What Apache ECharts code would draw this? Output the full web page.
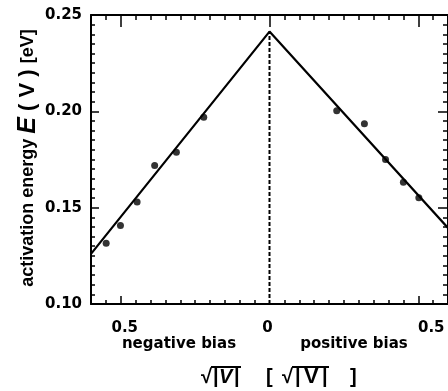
<!DOCTYPE html>
<html>
<head>
<meta charset="utf-8">
<script src="https://cdn.jsdelivr.net/npm/echarts@6/dist/echarts.min.js"></script>
<style>
html,body{margin:0;padding:0;background:#fff;}
#chart{width:448px;height:391px;}
</style>
</head>
<body>
<div id="chart"></div>
<script>
// data
const negX = [-0.549, -0.501, -0.445, -0.386, -0.313, -0.221];
const negE = [0.1315, 0.1408, 0.1529, 0.1719, 0.1788, 0.1969];
const posX = [0.226, 0.319, 0.390, 0.450, 0.502];
const posE = [0.2003, 0.1936, 0.1750, 0.1632, 0.1552];
const fitX = [-0.6, 0, 0.6];
const fitE = [0.126, 0.2414, 0.1395];
const dashX = [0, 0];
const dashE = [0.10, 0.2414];
const xMajorTicks = [-0.5, 0, 0.5];
const xMinorTicks = [-0.55,-0.45,-0.4,-0.35,-0.3,-0.25,-0.2,-0.15,-0.1,-0.05,0.05,0.1,0.15,0.2,0.25,0.3,0.35,0.4,0.45,0.55];

const pts = (xs, ys) => xs.map((x, i) => [x, ys[i]]);
const FONT = 'DejaVu Sans';
const LIB = 'Liberation Sans';
const chart = echarts.init(document.getElementById('chart'), null, {renderer: 'canvas'});

function xAxisBase(pos) {
  return {
    type: 'value', position: pos, min: -0.6, max: 0.6,
    splitLine: {show: false},
    axisLine: {show: false, onZero: false},
    axisLabel: {show: false},
  };
}
function txt(x, s, opts) {
  return {
    type: 'text', x: x, y: 377,
    style: Object.assign({text: s, fontFamily: LIB, fontWeight: 'bold', fontSize: 20, fill: '#000', align: 'left', verticalAlign: 'middle'}, opts || {})
  };
}
function bar(x1, x2) {
  return {type: 'line', shape: {x1: x1, y1: 367, x2: x2, y2: 367}, style: {stroke: '#000', lineWidth: 2}};
}

const option = {
  backgroundColor: '#fff',
  animation: false,
  grid: {left: 91, top: 15, width: 359, height: 289, show: false},
  xAxis: [
    Object.assign(xAxisBase('bottom'), {
      axisLine: {show: true, onZero: false, lineStyle: {color: '#000', width: 2}},
      axisTick: {show: true, inside: true, length: 4, customValues: xMinorTicks, lineStyle: {color: '#000', width: 1.5}}
    }),
    Object.assign(xAxisBase('bottom'), {
      axisTick: {show: true, inside: true, length: 8, customValues: [-0.5, 0.5], lineStyle: {color: '#000', width: 1.5}},
      axisLabel: {
        show: true, customValues: xMajorTicks, margin: 17,
        formatter: function (v) {
          const s = String(Math.abs(v));
          if (v > 0) return '{r|' + s + '}';
          if (v < 0) return '{l|' + s + '}';
          return '{z|' + s + '}';
        },
        rich: {
          r: {fontFamily: FONT, fontWeight: 'bold', fontSize: 15, color: '#000', padding: [0, 0, 0, 26]},
          l: {fontFamily: FONT, fontWeight: 'bold', fontSize: 15, color: '#000', padding: [0, 0, 0, 8]},
          z: {fontFamily: FONT, fontWeight: 'bold', fontSize: 15, color: '#000', padding: [0, 4, 0, 0]}
        }
      }
    }),
    Object.assign(xAxisBase('top'), {
      axisLine: {show: true, onZero: false, lineStyle: {color: '#000', width: 2}},
      axisTick: {show: true, inside: true, length: 5, customValues: xMinorTicks, lineStyle: {color: '#000', width: 1.5}}
    }),
    Object.assign(xAxisBase('top'), {
      axisTick: {show: true, inside: true, length: 12, customValues: xMajorTicks, lineStyle: {color: '#000', width: 1.5}}
    })
  ],
  yAxis: [
    {
      type: 'value', position: 'left', min: 0.10, max: 0.25, interval: 0.05,
      splitLine: {show: false},
      axisLine: {show: true, onZero: false, lineStyle: {color: '#000', width: 2}},
      axisTick: {show: true, inside: true, length: 8, lineStyle: {color: '#000', width: 1.5}},
      minorTick: {show: true, splitNumber: 10, length: 4, lineStyle: {color: '#000', width: 1.5}},
      axisLabel: {
        show: true, margin: 9, fontFamily: FONT, fontWeight: 'bold', fontSize: 15, color: '#000',
        formatter: v => v.toFixed(2)
      }
    },
    {
      type: 'value', position: 'right', min: 0.10, max: 0.25, interval: 0.05,
      splitLine: {show: false},
      axisLine: {show: true, onZero: false, lineStyle: {color: '#000', width: 2}},
      axisTick: {show: true, inside: true, length: 10, lineStyle: {color: '#000', width: 1.5}},
      minorTick: {show: true, splitNumber: 10, length: 5, lineStyle: {color: '#000', width: 1.5}},
      axisLabel: {show: false}
    }
  ],
  series: [
    {
      type: 'line', xAxisIndex: 0, yAxisIndex: 0, data: pts(dashX, dashE),
      symbol: 'none', lineStyle: {color: '#000', width: 2, type: [4, 2]}, z: 2
    },
    {
      type: 'line', xAxisIndex: 0, yAxisIndex: 0, data: pts(fitX, fitE),
      symbol: 'none', lineStyle: {color: '#000', width: 2.2}, z: 3
    },
    {
      type: 'scatter', xAxisIndex: 0, yAxisIndex: 0, data: pts(negX, negE),
      symbol: 'circle', symbolSize: 7, itemStyle: {color: '#000'}, z: 4
    },
    {
      type: 'scatter', xAxisIndex: 0, yAxisIndex: 0, data: pts(posX, posE),
      symbol: 'circle', symbolSize: 7, itemStyle: {color: '#000'}, z: 4
    }
  ],
  graphic: [
    {
      type: 'text', x: 28, y: 158, rotation: Math.PI / 2,
      style: {
        text: '{a|activation energy }{b|E}{c| ( V ) }{a|[eV]}',
        align: 'center', verticalAlign: 'middle',
        rich: {
          a: {fontFamily: LIB, fontWeight: 'bold', fontSize: 18, fill: '#000'},
          b: {fontFamily: LIB, fontWeight: 'bold', fontStyle: 'italic', fontSize: 25, fill: '#000'},
          c: {fontFamily: LIB, fontWeight: 'bold', fontSize: 22, fill: '#000'}
        }
      }
    },
    {
      type: 'text', x: 179, y: 344,
      style: {text: 'negative bias', fontFamily: FONT, fontWeight: 'bold', fontSize: 15, fill: '#000', align: 'center', verticalAlign: 'middle'}
    },
    {
      type: 'text', x: 354, y: 344,
      style: {text: 'positive bias', fontFamily: FONT, fontWeight: 'bold', fontSize: 15, fill: '#000', align: 'center', verticalAlign: 'middle'}
    },
    txt(201, '√'),
    txt(213, '|'),
    txt(219, 'V', {fontStyle: 'italic'}),
    txt(234, '|'),
    bar(211, 241),
    txt(266, '['),
    txt(282, '√'),
    txt(295, '|'),
    txt(304, 'V', {fontSize: 22}),
    txt(322, '|'),
    txt(350, ']'),
    bar(292, 329)
  ]
};
chart.setOption(option);
</script>
</body>
</html>
